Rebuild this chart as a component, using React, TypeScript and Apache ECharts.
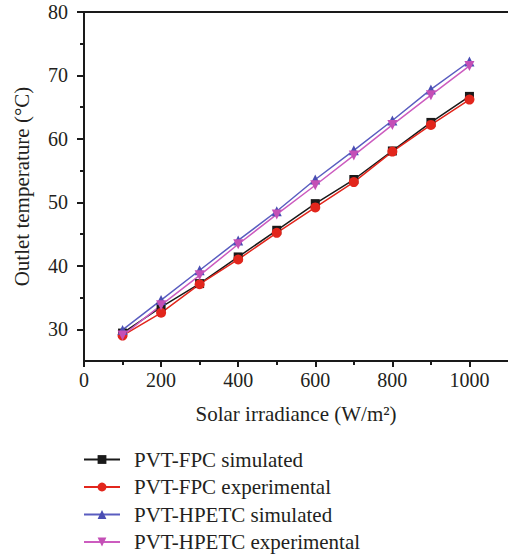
import React, { useEffect, useRef } from "react";
import * as echarts from "echarts";

const irradiance = [100, 200, 300, 400, 500, 600, 700, 800, 900, 1000];
const fpcSimulated = [29.4, 33.5, 37.2, 41.4, 45.6, 49.8, 53.6, 58.1, 62.6, 66.7];
const fpcExperimental = [29.0, 32.6, 37.1, 41.0, 45.2, 49.2, 53.2, 58.0, 62.2, 66.2];
const hpetcSimulated = [29.9, 34.6, 39.3, 44.0, 48.6, 53.6, 58.2, 62.9, 67.8, 72.2];
const hpetcExperimental = [29.0, 33.8, 38.5, 43.4, 48.1, 52.7, 57.4, 62.2, 66.9, 71.5];

const seriesNames = [
  "PVT-FPC simulated",
  "PVT-FPC experimental",
  "PVT-HPETC simulated",
  "PVT-HPETC experimental",
];

const xMajorTicks = [0, 200, 400, 600, 800, 1000];
const xMinorTicks = [100, 300, 500, 700, 900];
const yMajorTicks = [30, 40, 50, 60, 70, 80];
const yMinorTicks = [35, 45, 55, 65, 75];

const FONT = "Liberation Serif";
const AXIS = "#1a1a1a";
const TEXT = "#231f20";

export default function App() {
  const ref = useRef<HTMLDivElement>(null);
  useEffect(() => {
    document.body.style.margin = "0";
    if (!ref.current) return;
    const chart = echarts.init(ref.current, undefined, { renderer: "svg" });
    const mk = (vals: number[]) => irradiance.map((x, i) => [x, vals[i]]);
    const lineW = 1.5;
    chart.setOption({
      animation: false,
      grid: { left: 84, right: 0, top: 12, bottom: 196 },
      legend: {
        orient: "vertical",
        left: 83,
        top: 449,
        padding: 0,
        itemWidth: 36,
        itemHeight: 11,
        itemGap: 6.5,
        data: seriesNames,
        textStyle: {
          fontFamily: FONT,
          fontSize: 21,
          color: TEXT,
          lineHeight: 20,
          padding: [0, 0, 0, 9],
        },
      },
      xAxis: [
        {
          type: "value",
          min: 0,
          max: 1100,
          position: "bottom",
          name: "Solar irradiance (W/m²)",
          nameLocation: "middle",
          nameGap: 42,
          nameTextStyle: { fontFamily: FONT, fontSize: 21, color: TEXT },
          axisLine: { show: true, lineStyle: { color: AXIS, width: 2 } },
          axisTick: {
            show: true,
            length: 6,
            lineStyle: { color: AXIS, width: 2 },
            customValues: xMajorTicks,
          },
          axisLabel: {
            fontFamily: FONT,
            fontSize: 20,
            color: TEXT,
            margin: 9,
            customValues: xMajorTicks,
            formatter: (v: number) => String(v),
          },
          splitLine: { show: false },
        },
        {
          type: "value",
          min: 0,
          max: 1100,
          position: "bottom",
          axisLine: { show: false },
          axisTick: {
            show: true,
            length: 4,
            lineStyle: { color: AXIS, width: 2 },
            customValues: xMinorTicks,
          },
          axisLabel: { show: false },
          splitLine: { show: false },
        },
        {
          type: "value",
          min: 0,
          max: 1100,
          position: "top",
          axisLine: { show: true, lineStyle: { color: AXIS, width: 2 } },
          axisTick: { show: false },
          axisLabel: { show: false },
          splitLine: { show: false },
        },
      ],
      yAxis: [
        {
          type: "value",
          min: 25,
          max: 80,
          name: "Outlet temperature (°C)",
          nameLocation: "middle",
          nameGap: 52,
          nameTextStyle: { fontFamily: FONT, fontSize: 21, color: TEXT },
          axisLine: { show: true, lineStyle: { color: AXIS, width: 2 } },
          axisTick: {
            show: true,
            length: 7,
            lineStyle: { color: AXIS, width: 2 },
            customValues: yMajorTicks,
          },
          axisLabel: {
            fontFamily: FONT,
            fontSize: 20,
            color: TEXT,
            margin: 16,
            customValues: yMajorTicks,
          },
          splitLine: { show: false },
        },
        {
          type: "value",
          min: 25,
          max: 80,
          position: "left",
          axisLine: { show: false },
          axisTick: {
            show: true,
            length: 4,
            lineStyle: { color: AXIS, width: 2 },
            customValues: yMinorTicks,
          },
          axisLabel: { show: false },
          splitLine: { show: false },
        },
      ],
      series: [
        {
          name: seriesNames[0],
          type: "line",
          data: mk(fpcSimulated),
          symbol: "rect",
          symbolSize: 9,
          itemStyle: { color: "#1a1a1a" },
          lineStyle: { color: "#1a1a1a", width: lineW },
        },
        {
          name: seriesNames[1],
          type: "line",
          data: mk(fpcExperimental),
          symbol: "circle",
          symbolSize: 10,
          itemStyle: { color: "#e2261c" },
          lineStyle: { color: "#e2261c", width: lineW },
        },
        {
          name: seriesNames[2],
          type: "line",
          data: mk(hpetcSimulated),
          symbol: "triangle",
          symbolSize: 10,
          itemStyle: { color: "#4a4db3" },
          lineStyle: { color: "#5a5dc0", width: lineW },
        },
        {
          name: seriesNames[3],
          type: "line",
          data: mk(hpetcExperimental),
          symbol: "triangle",
          symbolRotate: 180,
          symbolSize: 10,
          itemStyle: { color: "#c44fb6" },
          lineStyle: { color: "#cc5cbf", width: lineW },
        },
      ],
    });
    return () => chart.dispose();
  }, []);
  return <div ref={ref} style={{ width: 508, height: 557 }} />;
}
